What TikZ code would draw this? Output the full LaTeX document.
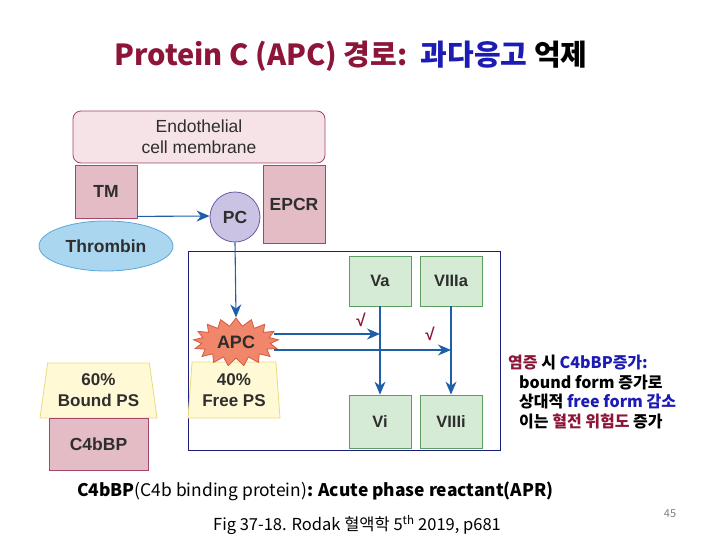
\documentclass[tikz,border=0pt]{standalone}
\usepackage{fontspec}
\setmainfont{Noto Sans CJK KR}
\newfontfamily\labelfont{Liberation Sans}
\usetikzlibrary{arrows.meta,shapes.geometric,shapes.symbols}

\definecolor{membraneFill}{HTML}{F6E3E8}
\definecolor{membraneLine}{HTML}{A3466A}
\definecolor{receptorFill}{HTML}{E3BCC5}
\definecolor{thrombinFill}{HTML}{AAD6F0}
\definecolor{thrombinLine}{HTML}{5AA8D8}
\definecolor{pcFill}{HTML}{CBC3E3}
\definecolor{pcLine}{HTML}{6E5AA8}
\definecolor{apcFill}{HTML}{F0876A}
\definecolor{apcLine}{HTML}{D9573F}
\definecolor{psFill}{HTML}{FFF9D6}
\definecolor{psLine}{HTML}{EADB78}
\definecolor{factorFill}{HTML}{D5EBD5}
\definecolor{factorLine}{HTML}{5E9E62}
\definecolor{flowBlue}{HTML}{1F5FAA}
\definecolor{frameNavy}{HTML}{1B1F7A}
\definecolor{titleRed}{HTML}{8C1538}
\definecolor{titleBlue}{HTML}{1C1CB4}
\definecolor{labelGray}{HTML}{2E2E2E}

\begin{document}
\begin{tikzpicture}[x=1pt,y=-1pt]

\tikzset{
  box node/.style={
    draw=membraneLine, fill=receptorFill, line width=0.8pt, inner sep=0pt,
    text=labelGray, font=\labelfont\bfseries\fontsize{17.5}{20}\selectfont,
  },
  factor node/.style={
    draw=factorLine, fill=factorFill, line width=0.8pt, inner sep=0pt,
    minimum width=62pt, text=labelGray,
    font=\labelfont\bfseries\fontsize{16.5}{18}\selectfont,
  },
  ps node/.style={
    trapezium, trapezium stretches body, draw=psLine, fill=psFill,
    line width=0.8pt, inner sep=0pt, align=center, text=labelGray,
    font=\labelfont\bfseries\fontsize{17}{21}\selectfont,
  },
  flow/.style={draw=flowBlue, line width=1.1pt, -{Stealth[length=13pt,width=11pt]}},
  tick/.style={text=titleRed, font=\labelfont\bfseries\fontsize{17}{18}\selectfont},
}

\useasboundingbox (0,0) rectangle (720,540);

  % Title
  \node[font=\bfseries\fontsize{29}{32}\selectfont] (title) at (351,56)
    {\textcolor{titleRed}{Protein C (APC) 경로:}\ \ \textcolor{titleBlue}{과다응고} 억제};

  % Membrane and receptors
  \node[box node, rounded corners=8pt, fill=membraneFill, minimum width=252pt,
        minimum height=52pt, align=center,
        font=\labelfont\fontsize{17.5}{21}\selectfont] (membrane) at (199,137)
    {Endothelial\\cell membrane};
  \node[box node, minimum width=62pt, minimum height=53pt] (tm) at (106,191.5) {TM};
  \node[box node, minimum width=62pt, minimum height=78pt] (epcr) at (294,204) {EPCR};
  \node[box node, ellipse, draw=thrombinLine, fill=thrombinFill,
        minimum width=134pt, minimum height=50pt] (thrombin) at (106,246) {Thrombin};
  \node[box node, circle, draw=pcLine, fill=pcFill, minimum size=50pt] (pc) at (235,217) {PC};

  % Frame
  \node[draw=frameNavy, line width=0.8pt, minimum width=312pt, minimum height=199pt,
        inner sep=0pt] (frame) at (344,350.5) {};

  % Protein S
  \node[ps node, minimum width=92pt, minimum height=56pt,
        trapezium left angle=83, trapezium right angle=83] (freeps) at (234,390) {40\%\\Free PS};
  \node[ps node, minimum width=117pt, minimum height=55pt,
        trapezium left angle=77, trapezium right angle=77] (boundps) at (98.5,390.5) {60\%\\Bound PS};
  \node[box node, minimum width=99pt, minimum height=52pt] (c4bbp) at (98.5,444) {C4bBP};

  % APC
  \node[box node, starburst, starburst points=17, starburst point height=8pt,
        random starburst=0, draw=apcLine, fill=apcFill, minimum width=85pt,
        minimum height=48pt, font=\labelfont\bfseries\fontsize{18}{20}\selectfont] (apc) at (236,342) {APC};

  % Factors
  \node[factor node, minimum height=50pt] (va) at (380,281) {Va};
  \node[factor node, minimum height=50pt] (viiia) at (451,281) {VIIIa};
  \node[factor node, minimum height=53pt] (vi) at (380,421.5) {Vi};
  \node[factor node, minimum height=53pt] (viiii) at (451,421.5) {VIIIi};

  \coordinate (meetva) at (380,334);
  \coordinate (meetviiia) at (451,350);

  % Edges
  \draw[flow] ([yshift=2pt]tm.south east) -- ([yshift=1pt]pc.west);
  \draw[flow] (pc.south) -- (apc.north);
  \draw[flow] (apc.east |- meetva) -- (meetva);
  \draw[flow] (apc.east |- meetviiia) -- (meetviiia);
  \draw[flow] (va.south) -- (vi.north);
  \draw[flow] (viiia.south) -- (viiii.north);

  % Marks
  \node[tick] (tick1) at (361,320) {√};
  \node[tick] (tick2) at (430,334) {√};

  % Notes
  \node[anchor=north west, align=left, inner sep=0pt,
        font=\bfseries\fontsize{16}{19.5}\selectfont] (note) at (508,355)
    {\textcolor{titleRed}{염증} 시 \textcolor{titleBlue}{C4bBP증가:}\\
     \hspace*{11pt}bound form 증가로\\
     \hspace*{11pt}상대적 \textcolor{titleBlue}{free form 감소}\\
     \hspace*{11pt}이는 \textcolor{titleRed}{혈전 위험도} 증가};

  \node[anchor=west, inner sep=0pt, font=\fontsize{17.4}{18}\selectfont] (apr) at (77,491)
    {\textbf{C4bBP}(C4b binding protein)\textbf{: Acute phase reactant(APR)}};
  \node[font=\fontsize{16.5}{18}\selectfont] (source) at (357,525)
    {Fig 37-18. Rodak 혈액학 5\textsuperscript{th} 2019, p681};
  \node[text=gray, font=\fontsize{11}{12}\selectfont] (page) at (670,514) {45};
\end{tikzpicture}
\end{document}
